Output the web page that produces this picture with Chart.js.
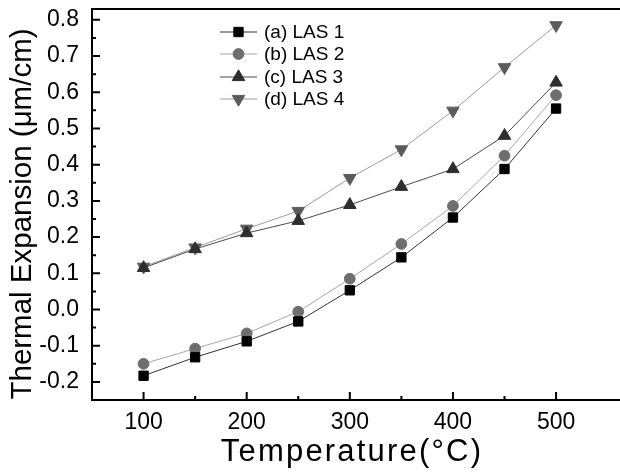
<!DOCTYPE html>
<html>
<head>
<meta charset="utf-8">
<script src="https://cdn.jsdelivr.net/npm/chart.js@4/dist/chart.umd.min.js"></script>
<style>
html,body{margin:0;padding:0;background:#fff;}
#wrap{width:620px;height:472px;position:relative;}
</style>
</head>
<body>
<div id="wrap"><canvas id="c" width="620" height="472"></canvas></div>
<script>
const temperatures = [100, 150, 200, 250, 300, 350, 400, 450, 500];
const las1 = [-0.183, -0.132, -0.088, -0.033, 0.053, 0.144, 0.254, 0.388, 0.555];
const las2 = [-0.150, -0.108, -0.066, -0.006, 0.085, 0.181, 0.286, 0.425, 0.592];
const las3 = [0.115, 0.167, 0.211, 0.245, 0.289, 0.339, 0.388, 0.480, 0.627];
const las4 = [0.118, 0.171, 0.223, 0.272, 0.363, 0.442, 0.549, 0.669, 0.785];
const seriesNames = ['(a) LAS 1', '(b) LAS 2', '(c) LAS 3', '(d) LAS 4'];
const xTickValues = [100, 200, 300, 400, 500];
const xMinorValues = [150, 250, 350, 450];
const yTickValues = [-0.2, -0.1, 0.0, 0.1, 0.2, 0.3, 0.4, 0.5, 0.6, 0.7, 0.8];
const yMinorValues = [-0.15, -0.05, 0.05, 0.15, 0.25, 0.35, 0.45, 0.55, 0.65, 0.75];
const xTitle = 'Temperature(°C)';
const yTitle = 'Thermal Expansion (μm/cm)';

const styles = [
  {marker: '#000000', line: '#333333', pointStyle: 'rect', radius: 6.6, rotation: 0},
  {marker: '#6e6e6e', line: '#a6a6a6', pointStyle: 'circle', radius: 5.4, rotation: 0},
  {marker: '#2e2e2e', line: '#4a4a4a', pointStyle: 'triangle', radius: 7.2, rotation: 0},
  {marker: '#5c5c5c', line: '#9a9a9a', pointStyle: 'triangle', radius: 7.2, rotation: 180}
];
const allSeries = [las1, las2, las3, las4];

const datasets = allSeries.map((vals, i) => ({
  label: seriesNames[i],
  data: temperatures.map((t, k) => ({x: t, y: vals[k]})),
  borderColor: styles[i].line,
  borderWidth: 1,
  backgroundColor: styles[i].marker,
  pointBackgroundColor: styles[i].marker,
  pointBorderColor: styles[i].marker,
  pointBorderWidth: 1,
  pointStyle: styles[i].pointStyle,
  pointRadius: styles[i].radius,
  pointRotation: styles[i].rotation,
  tension: 0,
  fill: false
}));

const FONT = "'Liberation Sans', Arial, sans-serif";

const decor = {
  id: 'decor',
  afterDraw(chart) {
    const ctx = chart.ctx;
    const a = chart.chartArea;
    const xs = chart.scales.x, ys = chart.scales.y;
    ctx.save();
    ctx.strokeStyle = '#000';
    ctx.lineWidth = 2;
    ctx.beginPath();
    ctx.moveTo(a.left, a.top); ctx.lineTo(a.left, a.bottom);
    ctx.moveTo(a.left - 1, a.bottom); ctx.lineTo(a.right, a.bottom);
    ctx.moveTo(a.left - 1, a.top); ctx.lineTo(a.right, a.top);
    ctx.stroke();
    ctx.beginPath();
    xTickValues.forEach(v => { const p = xs.getPixelForValue(v); ctx.moveTo(p, a.bottom); ctx.lineTo(p, a.bottom - 8); });
    xMinorValues.forEach(v => { const p = xs.getPixelForValue(v); ctx.moveTo(p, a.bottom); ctx.lineTo(p, a.bottom - 4); });
    yTickValues.forEach(v => { const p = ys.getPixelForValue(v); ctx.moveTo(a.left, p); ctx.lineTo(a.left + 8, p); });
    yMinorValues.forEach(v => { const p = ys.getPixelForValue(v); ctx.moveTo(a.left, p); ctx.lineTo(a.left + 4, p); });
    ctx.stroke();
    ctx.fillStyle = '#000';
    ctx.textAlign = 'center';
    ctx.textBaseline = 'middle';
    ctx.font = '31px ' + FONT;
    try { ctx.letterSpacing = '2.2px'; } catch (e) {}
    ctx.fillText(xTitle, 352, 452);
    try { ctx.letterSpacing = '0px'; } catch (e) {}
    ctx.font = '29.5px ' + FONT;
    ctx.save();
    ctx.translate(22.5, 214);
    ctx.rotate(-Math.PI / 2);
    ctx.fillText(yTitle, 0, 0);
    ctx.restore();
    const lx0 = 220, lx1 = 257, tx = 264;
    const rows = [32, 54, 77, 99];
    ctx.font = '19px ' + FONT;
    ctx.textAlign = 'left';
    chart.data.datasets.forEach((ds, i) => {
      const y = rows[i];
      ctx.strokeStyle = ds.borderColor;
      ctx.lineWidth = 1;
      ctx.beginPath(); ctx.moveTo(lx0, y); ctx.lineTo(lx1, y); ctx.stroke();
      ctx.fillStyle = ds.pointBackgroundColor;
      ctx.strokeStyle = ds.pointBorderColor;
      Chart.helpers.drawPoint(ctx, {pointStyle: ds.pointStyle, rotation: ds.pointRotation, radius: ds.pointRadius, borderWidth: 1}, (lx0 + lx1) / 2, y);
      ctx.fillStyle = '#000';
      ctx.fillText(ds.label, tx, y + 1);
    });
    ctx.restore();
  }
};

new Chart(document.getElementById('c'), {
  type: 'line',
  data: {datasets},
  options: {
    responsive: false,
    animation: false,
    devicePixelRatio: 1,
    layout: {autoPadding: false, padding: {top: 9, right: 0, left: 0, bottom: 0}},
    plugins: {legend: {display: false}, tooltip: {enabled: false}},
    scales: {
      x: {
        type: 'linear', min: 50, max: 562,
        grid: {display: false, drawTicks: false},
        border: {display: false},
        afterBuildTicks: s => { s.ticks = xTickValues.map(v => ({value: v})); },
        afterFit: s => { s.height = 72; s.paddingLeft = 0; s.paddingRight = 0; s.paddingTop = 0; s.paddingBottom = 0; },
        ticks: {color: '#000', padding: 9, maxRotation: 0, font: {family: FONT, size: 23}, callback: v => String(v)}
      },
      y: {
        type: 'linear', min: -0.25, max: 0.83,
        grid: {display: false, drawTicks: false},
        border: {display: false},
        afterBuildTicks: s => { s.ticks = yTickValues.map(v => ({value: v})); },
        afterFit: s => { s.width = 92; s.paddingLeft = 0; s.paddingRight = 0; s.paddingTop = 0; s.paddingBottom = 0; },
        ticks: {color: '#000', padding: 13, font: {family: FONT, size: 23}, callback: v => Number(v).toFixed(1)}
      }
    }
  },
  plugins: [decor]
});
</script>
</body>
</html>
